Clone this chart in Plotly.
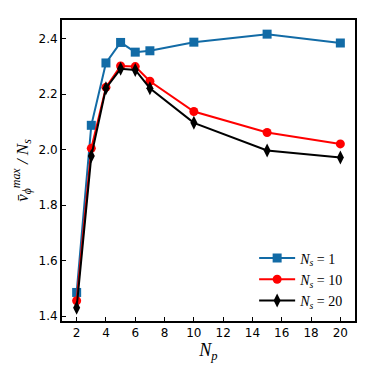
import plotly.graph_objects as go

np_vals = [2, 3, 4, 5, 6, 7, 10, 15, 20]
ns1 = [1.485, 2.088, 2.313, 2.387, 2.352, 2.357, 2.388, 2.417, 2.385]
ns10 = [1.455, 2.005, 2.225, 2.302, 2.300, 2.247, 2.138, 2.062, 2.021]
ns20 = [1.430, 1.977, 2.222, 2.292, 2.288, 2.222, 2.097, 1.997, 1.972]

series = [
    ("<i>N<sub>s</sub></i> = 1", ns1, "#126ba6", "square", 9),
    ("<i>N<sub>s</sub></i> = 10", ns10, "#ff0000", "circle", 9),
    ("<i>N<sub>s</sub></i> = 20", ns20, "#000000", "diamond-tall", 10),
]

fig = go.Figure()
for name, ys, color, sym, size in series:
    fig.add_trace(go.Scatter(
        x=np_vals, y=ys, name=name, mode="lines+markers",
        line=dict(color=color, width=2),
        marker=dict(symbol=sym, size=size, color=color),
    ))

axis_common = dict(
    showgrid=False, zeroline=False, ticks="inside", ticklen=4, tickwidth=1,
    tickcolor="black", showline=True, linecolor="black", linewidth=2, mirror=True,
    tickfont=dict(family="DejaVu Sans", size=12, color="black"),
)

# page has an 8px body margin, so the figure is a bit smaller than the window
fig.update_layout(
    width=366, height=366,
    margin=dict(l=54, r=19, t=10, b=53),
    plot_bgcolor="white", paper_bgcolor="white",
    showlegend=True,
    legend=dict(
        x=0.98, y=0.015, xanchor="right", yanchor="bottom",
        bgcolor="rgba(0,0,0,0)", borderwidth=0,
        font=dict(family="Liberation Serif", size=14, color="black"),
        itemwidth=36, tracegroupgap=0,
    ),
    xaxis=dict(
        range=[1.0, 21.0], tickmode="array", tickvals=list(range(2, 21, 2)),
        title=dict(text="<i>N<sub>p</sub></i>", standoff=2,
                   font=dict(family="Liberation Serif", size=18, color="black")),
        **axis_common,
    ),
    yaxis=dict(
        range=[1.382, 2.468], tickmode="array", tickvals=[1.4, 1.6, 1.8, 2.0, 2.2, 2.4],
        tickformat=".1f",
        title=dict(text="<i>v̄<sub>ϕ</sub><sup>max</sup> / N<sub>s</sub></i>", standoff=6,
                   font=dict(family="Liberation Serif", size=17, color="black")),
        **axis_common,
    ),
)

fig.write_html("out.html")
